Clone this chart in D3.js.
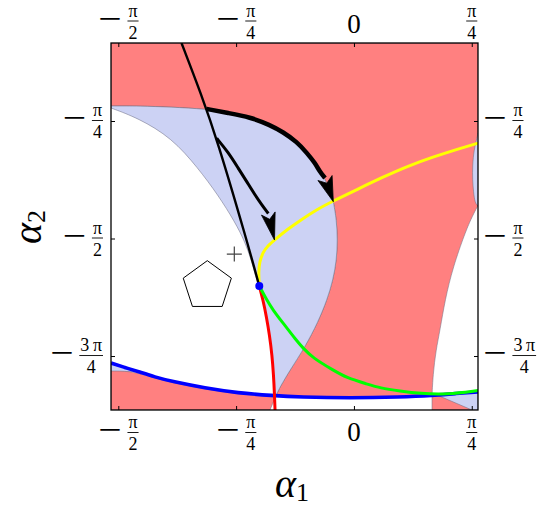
<!DOCTYPE html>
<html><head><meta charset="utf-8">
<script src="https://cdn.jsdelivr.net/npm/d3@7"></script>
<style>body{margin:0;background:#fff;} svg{display:block;}</style>
</head><body>
<svg id="c" width="538" height="506"></svg>
<script>
const PI = Math.PI;
// ---- axis ranges (radians) ----
const xDomain = [-1.6195, 0.827];
const yDomain = [-2.717, -0.264];
const xTicks = [-PI/2, -PI/4, 0, PI/4];
const xTickLabels = [{sign:"\u2212",num:"\u03c0",den:"2"},{sign:"\u2212",num:"\u03c0",den:"4"},{plain:"0"},{sign:"",num:"\u03c0",den:"4"}];
const yTicks = [-PI/4, -PI/2, -3*PI/4];
const yTickLabels = [{sign:"\u2212",num:"\u03c0",den:"4"},{sign:"\u2212",num:"\u03c0",den:"2"},{sign:"\u2212",num:"3\u2009\u03c0",den:"4"}];

// ---- region boundaries (alpha1, alpha2) ----
const lavTop = [[-1.6195,-0.685],[-1.426,-0.685],[-1.226,-0.692],[-0.9815,-0.705],[-0.8395,-0.732],[-0.693,-0.759],[-0.5595,-0.8122],[-0.473,-0.859],[-0.3795,-0.9258],[-0.313,-0.9993],[-0.2595,-1.0662],[-0.213,-1.133],[-0.1728,-1.2199],[-0.1375,-1.3249]];
const bandLeft = [[-0.1375,-1.3249],[-0.116,-1.447],[-0.1095,-1.581],[-0.116,-1.7146],[-0.1395,-1.848],[-0.1795,-1.982],[-0.2395,-2.129],[-0.326,-2.296],[-0.426,-2.450],[-0.493,-2.5635],[-0.5195,-2.6203]];
const whiteRightEdge = [[0.827,-1.3536],[0.8172,-1.367],[0.7805,-1.4405],[0.7405,-1.534],[0.6605,-1.7614],[0.607,-1.982],[0.574,-2.1825],[0.547,-2.316],[0.527,-2.4833],[0.5205,-2.6237]];
const bandBottom = [[0.5205,-2.6237],[0.307,-2.6303],[-0.026,-2.637],[-0.3595,-2.6303],[-0.5195,-2.6203]];
const whiteLeftEdge = [[-0.631,-1.888],[-0.646,-1.862],[-0.6795,-1.728],[-0.726,-1.594],[-0.793,-1.461],[-0.906,-1.280],[-1.0395,-1.100],[-1.213,-0.899],[-1.4395,-0.765],[-1.6195,-0.6985]];
const lavRightSliver = [[0.827,-0.8656],[0.8172,-0.9124],[0.8005,-0.979],[0.7905,-1.0795],[0.7905,-1.1798],[0.7972,-1.26],[0.807,-1.3336],[0.827,-1.3536]];
const redBottomLeftTop = [[-1.6195,-2.4566],[-1.4795,-2.4566],[-1.326,-2.5033],[-1.213,-2.5334],[-0.993,-2.5769],[-0.773,-2.6103],[-0.546,-2.627],[-0.5195,-2.6203]];
const redBottomLeftBase = [[-0.5595,-2.717],[-1.6195,-2.717]];
const lavBottomLeft = [[-1.6195,-2.403],[-1.526,-2.4332],[-1.4395,-2.46],[-1.6195,-2.46]];
const redBottomRight = [[0.5205,-2.6237],[0.674,-2.607],[0.827,-2.5969],[0.827,-2.717],[0.5205,-2.717]];
const lavBottomRight = [[0.554,-2.617],[0.827,-2.5936],[0.827,-2.717],[0.787,-2.717]];

// ---- curves ----
const blueLine = [[-1.6195,-2.403],[-1.526,-2.4332],[-1.4395,-2.46],[-1.326,-2.4967],[-1.213,-2.5267],[-0.993,-2.5702],[-0.773,-2.6036],[-0.546,-2.6203],[-0.3595,-2.6303],[-0.026,-2.637],[0.307,-2.6303],[0.527,-2.6203],[0.674,-2.607],[0.827,-2.5969]];
const redLine = [[-0.631,-1.888],[-0.606,-1.982],[-0.583,-2.0956],[-0.563,-2.216],[-0.546,-2.3496],[-0.536,-2.4833],[-0.5295,-2.617],[-0.526,-2.717]];
const greenLine = [[-0.631,-1.888],[-0.5815,-1.982],[-0.5395,-2.0488],[-0.473,-2.1357],[-0.386,-2.2493],[-0.3395,-2.303],[-0.273,-2.3697],[-0.1395,-2.450],[-0.046,-2.5033],[0.087,-2.5434],[0.174,-2.5702],[0.307,-2.5902],[0.4405,-2.607],[0.6205,-2.6136],[0.827,-2.5869]];
const yellowLine = [[-0.631,-1.888],[-0.636,-1.795],[-0.6295,-1.728],[-0.606,-1.661],[-0.5762,-1.621],[-0.526,-1.5775],[-0.4395,-1.507],[-0.3595,-1.4505],[-0.253,-1.380],[-0.1395,-1.320],[0.027,-1.240],[0.194,-1.160],[0.3605,-1.086],[0.527,-1.026],[0.694,-0.9726],[0.827,-0.933]];
const blackLine = [[-1.1495,-0.264],[-1.0162,-0.6116],[-0.9148,-0.9011],[-0.7148,-1.581],[-0.631,-1.888]];
const bigArrow = [[-0.9815,-0.705],[-0.8395,-0.732],[-0.693,-0.759],[-0.5595,-0.8122],[-0.473,-0.859],[-0.3795,-0.9258],[-0.313,-0.9993],[-0.2595,-1.0662],[-0.2262,-1.1263],[-0.1928,-1.1664]];
const bigArrowTip = [-0.1375,-1.3249];
const smallArrow = [[-0.9148,-0.9011],[-0.8395,-0.9926],[-0.7708,-1.1016],[-0.713,-1.1932],[-0.6595,-1.280],[-0.6128,-1.3469],[-0.5708,-1.4037]];
const smallArrowTip = [-0.5295,-1.581];
const bluePoint = [-0.631,-1.888];
const pentagonCenter = [-0.9775,-1.888];
const plusCenter = [-0.7975,-1.6745];

// ---- setup ----
const svg = d3.select("#c");
const L = 111, R = 478, T = 43, B = 410;
const x = d3.scaleLinear().domain(xDomain).range([L, R]);
const y = d3.scaleLinear().domain(yDomain).range([B, T]);
const RED = "#FF8080", LAV = "#CCD2F4";
const SERIF = "'Liberation Serif','Times New Roman',Times,serif";

svg.append("defs").append("clipPath").attr("id","pc").append("rect")
  .attr("x",L).attr("y",T).attr("width",R-L).attr("height",B-T);
const plot = svg.append("g").attr("clip-path","url(#pc)");

const smooth = d3.line().x(d=>x(d[0])).y(d=>y(d[1])).curve(d3.curveBasis);
const lin = d3.line().x(d=>x(d[0])).y(d=>y(d[1]));

function regionPath(segs) {
  return segs.map((s,i) => {
    const p = (s[1] ? smooth : lin)(s[0]);
    return i ? p.replace(/^M/, "L") : p;
  }).join("") + "Z";
}
function region(segs, fill) {
  plot.append("path").attr("d", regionPath(segs)).attr("fill", fill)
    .attr("stroke", "#6e6e82").attr("stroke-width", 0.7).attr("stroke-opacity", 0.75);
}

region([[[[-1.6195,-0.264],[0.827,-0.264]],false],[whiteRightEdge,true],[bandBottom,true],
        [bandLeft.slice().reverse(),true],[lavTop.slice().reverse(),true]], RED);
region([[lavBottomLeft,false]], LAV);
region([[redBottomLeftTop,true],[redBottomLeftBase,false]], RED);
region([[redBottomRight,false]], RED);
region([[lavBottomRight,false]], LAV);
region([[lavTop,true],[bandLeft,true],[redLine.slice(0,7).reverse(),true],[whiteLeftEdge,true]], LAV);
region([[lavRightSliver,true],[[[0.83,-1.3536],[0.83,-0.8656]],false]], LAV);

function curve(pts, color, w) {
  plot.append("path").attr("d", smooth(pts)).attr("fill","none").attr("stroke",color)
    .attr("stroke-width",w).attr("stroke-linejoin","round").attr("stroke-linecap","butt");
}
curve(blueLine, "#0000FF", 3.6);
curve(redLine, "#FF0000", 3);
curve(greenLine, "#00FF00", 3);
curve(yellowLine, "#FFFF00", 3);
curve(blackLine, "#000", 2.4);
curve(bigArrow, "#000", 4.5);
curve(smallArrow, "#000", 3);

function arrowHead(basePt, tipPt, W) {
  const bx = x(basePt[0]), by = y(basePt[1]), tx = x(tipPt[0]), ty = y(tipPt[1]);
  const dx = tx-bx, dy = ty-by, len = Math.hypot(dx,dy);
  const ux = dx/len, uy = dy/len, nx = -uy, ny = ux;
  const pts = [[tx,ty],[bx+nx*W/2, by+ny*W/2],[bx+ux*len*0.22, by+uy*len*0.22],[bx-nx*W/2, by-ny*W/2]];
  plot.append("path").attr("d", d3.line()(pts)+"Z").attr("fill","#000").attr("stroke","#000").attr("stroke-width",0.8);
}
arrowHead(bigArrow[bigArrow.length-1], bigArrowTip, 15);
arrowHead(smallArrow[smallArrow.length-1], smallArrowTip, 14);

plot.append("circle").attr("cx", x(bluePoint[0])).attr("cy", y(bluePoint[1])).attr("r", 4).attr("fill","#0000FF");

{
  const cx = x(pentagonCenter[0]), cy = y(pentagonCenter[1]), r = 25.3;
  const pts = d3.range(5).map(i => { const a = -PI/2 + i*2*PI/5; return [cx + r*Math.cos(a), cy + r*Math.sin(a)]; });
  plot.append("path").attr("d", d3.line()(pts)+"Z").attr("fill","none").attr("stroke","#000").attr("stroke-width",1);
}
{
  const cx = x(plusCenter[0]), cy = y(plusCenter[1]), a = 7.5;
  plot.append("path").attr("d", `M${cx-a},${cy}H${cx+a}M${cx},${cy-a}V${cy+a}`)
    .attr("stroke","#444").attr("stroke-width",1.2).attr("fill","none");
}

// ---- axes ticks ----
function ax(a, tr) {
  const g = svg.append("g").attr("transform", tr).call(a);
  g.select(".domain").remove();
  g.selectAll(".tick line").attr("stroke","#000").attr("stroke-width",1);
}
ax(d3.axisBottom(x).tickValues(xTicks).tickSize(-4).tickFormat(""), `translate(0,${B})`);
ax(d3.axisTop(x).tickValues(xTicks).tickSize(-4).tickFormat(""), `translate(0,${T})`);
ax(d3.axisLeft(y).tickValues(yTicks).tickSize(-4).tickFormat(""), `translate(${L},0)`);
ax(d3.axisRight(y).tickValues(yTicks).tickSize(-4).tickFormat(""), `translate(${R},0)`);
svg.append("rect").attr("x",L).attr("y",T).attr("width",R-L).attr("height",B-T)
  .attr("fill","none").attr("stroke","#000").attr("stroke-width",1.3);

// ---- tick labels ----
const MSCALE = 1.22;
function buildLabel(d, barY, plainBaseline) {
  const g = svg.append("g").attr("font-family", SERIF).attr("fill","#000");
  if (d.plain) {
    g.append("text").attr("x",0).attr("y",plainBaseline).attr("font-size",27).attr("text-anchor","middle").text(d.plain);
    return g;
  }
  let cx = 0;
  if (d.sign) {
    const m = g.append("text").attr("x",0).attr("y",0).attr("font-size",34)
      .attr("transform", `translate(0,${barY+8.5}) scale(${MSCALE},1)`).text(d.sign);
    cx = m.node().getComputedTextLength()*MSCALE + 6;
  }
  const num = g.append("text").attr("y",barY-4.2).attr("font-size",18).attr("text-anchor","middle").text(d.num);
  const den = g.append("text").attr("y",barY+17.5).attr("font-size",18).attr("text-anchor","middle").text(d.den);
  const w = Math.max(num.node().getComputedTextLength(), den.node().getComputedTextLength());
  num.attr("x", cx + w/2 + 1); den.attr("x", cx + w/2 + 1);
  g.append("line").attr("x1",cx).attr("x2",cx+w+2).attr("y1",barY).attr("y2",barY)
    .attr("stroke","#000").attr("stroke-width",0.9);
  return g;
}
xTicks.forEach((v,i) => {
  [[21,33],[432.5,440.5]].forEach(([by,pb]) => {
    const g = buildLabel(xTickLabels[i], by, pb);
    const bb = g.node().getBBox();
    g.attr("transform", `translate(${x(v) - (bb.x + bb.width/2)},0)`);
  });
});
yTicks.forEach((v,i) => {
  const gl = buildLabel(yTickLabels[i], y(v)-0.5, 0);
  const bl = gl.node().getBBox();
  gl.attr("transform", `translate(${103 - (bl.x + bl.width)},0)`);
  const gr = buildLabel(yTickLabels[i], y(v)-0.5, 0);
  const br = gr.node().getBBox();
  gr.attr("transform", `translate(${483 - br.x},0)`);
});

// ---- axis titles ----
const xt = svg.append("text").attr("x",292).attr("y",497).attr("font-family",SERIF).attr("text-anchor","middle");
xt.append("tspan").attr("font-style","italic").attr("font-size",40).text("\u03b1");
xt.append("tspan").attr("font-size",26).attr("dy",4).text("1");
const yt = svg.append("text").attr("transform","translate(41,227) rotate(-90)").attr("font-family",SERIF).attr("text-anchor","middle");
yt.append("tspan").attr("font-style","italic").attr("font-size",40).text("\u03b1");
yt.append("tspan").attr("font-size",26).attr("dy",4).text("2");
</script>
</body></html>
